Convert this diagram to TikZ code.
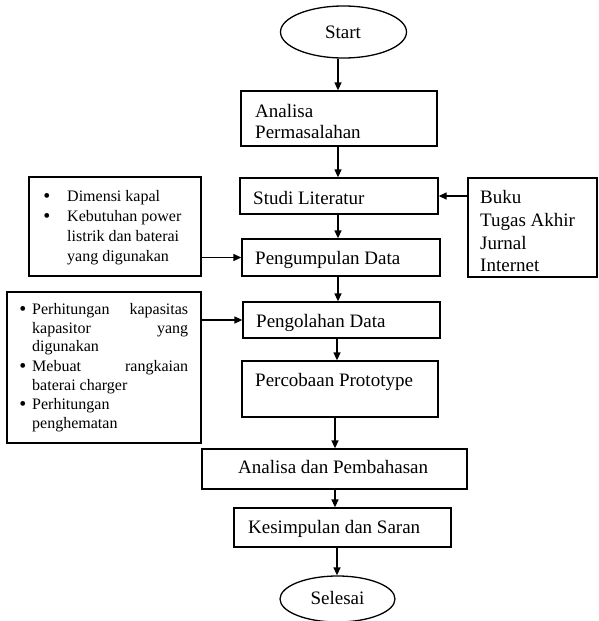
\documentclass[tikz,border=0pt]{standalone}
\usepackage{fontspec}
\setmainfont{Liberation Serif}
\usetikzlibrary{shapes.geometric,arrows.meta}
\tikzset{
  box/.style={draw=black, line width=1.3pt, rectangle, inner sep=0pt},
  term/.style={draw=black, line width=1.3pt, ellipse, inner sep=0pt},
  arr/.style={line width=1.3pt, -{Triangle[length=8pt,width=7pt]}},
  big/.style={anchor=base west, inner sep=0pt, font=\fontsize{19}{22}\selectfont},
  small/.style={anchor=base west, inner sep=0pt, font=\fontsize{16}{19}\selectfont},
  bul/.style={anchor=base, inner sep=0pt, font=\fontsize{20}{19}\selectfont}
}
\begin{document}
\begin{tikzpicture}[x=1pt,y=-1pt]
\useasboundingbox (0,0) rectangle (598,621);
% main column
\node[term, minimum width=126pt, minimum height=52pt] (start) at (343.5,32) {};
\node[anchor=base, inner sep=0pt, font=\fontsize{19}{22}\selectfont] (tstart) at (343,38) {Start};
\node[box, minimum width=196pt, minimum height=55pt] (analisa) at (339,118.5) {};
\node[big] (t1a) at (255,117) {Analisa};
\node[big] (t1b) at (255,138) {Permasalahan};
\node[box, minimum width=198pt, minimum height=36pt] (studi) at (339,196) {};
\node[big] (t2) at (253,204) {Studi Literatur};
\node[box, minimum width=198pt, minimum height=37pt] (kumpul) at (341,257.5) {};
\node[big] (t3) at (255,264) {Pengumpulan Data};
\node[box, minimum width=197pt, minimum height=36pt] (olah) at (341.5,320) {};
\node[big] (t4) at (256,327) {Pengolahan Data};
\node[box, minimum width=196pt, minimum height=56pt] (coba) at (340,389) {};
\node[big] (t5) at (255,386) {Percobaan Prototype};
\node[box, minimum width=265pt, minimum height=40pt] (adp) at (334.5,469) {};
\node[big] (t6) at (238,473) {Analisa dan Pembahasan};
\node[box, minimum width=217pt, minimum height=39pt] (kes) at (342.5,527.5) {};
\node[big] (t7) at (248,533) {Kesimpulan dan Saran};
\node[term, minimum width=115pt, minimum height=46pt] (selesai) at (337.5,599) {};
\node[anchor=base, inner sep=0pt, font=\fontsize{19}{22}\selectfont] (tsel) at (337.5,604) {Selesai};
% columns for arrows
\coordinate (cA) at (338,0);
\coordinate (cB) at (335,0);
\coordinate (cC) at (337,0);
\draw[arr] (start.south -| cA) -- (analisa.north -| cA);
\draw[arr] (analisa.south -| cA) -- (studi.north -| cA);
\draw[arr] (studi.south -| cA) -- (kumpul.north -| cA);
\draw[arr] (kumpul.south -| cA) -- (olah.north -| cA);
\draw[arr] (olah.south -| cC) -- (coba.north -| cC);
\draw[arr] (coba.south -| cB) -- (adp.north -| cB);
\draw[arr] (adp.south -| cB) -- (kes.north -| cB);
\draw[arr] (kes.south -| cC) -- (selesai.north -| cC);
% left box 1
\node[box, minimum width=172pt, minimum height=99pt] (left1) at (115,226.5) {};
\node[bul] (b11) at (47,202) {\textbullet};
\node[small] (l11) at (67,201) {Dimensi kapal};
\node[bul] (b12) at (47,222) {\textbullet};
\node[small] (l12) at (67,221) {Kebutuhan power};
\node[small] (l13) at (67,241) {listrik dan baterai};
\node[small] (l14) at (67,261) {yang digunakan};
\draw[arr] (left1.east |- kumpul.west) -- (kumpul.west);
% right box
\node[box, minimum width=129pt, minimum height=99pt] (right) at (532.5,227.5) {};
\node[big] (r1) at (480,203) {Buku};
\node[big] (r2) at (480,226) {Tugas Akhir};
\node[big] (r3) at (480,249) {Jurnal};
\node[big] (r4) at (480,271) {Internet};
\draw[arr] (right.west |- studi.east) -- (studi.east);
% left box 2
\node[box, minimum width=194pt, minimum height=151pt] (left2) at (104,367.5) {};
\node[bul] (b21) at (23,315) {\textbullet};
\node[small] (l21) at (32,314) {\hbox to 156pt{Perhitungan\hfill kapasitas}};
\node[small] (l22) at (32,333) {\hbox to 156pt{kapasitor\hfill yang}};
\node[small] (l23) at (32,351) {digunakan};
\node[bul] (b22) at (23,372) {\textbullet};
\node[small] (l24) at (32,371) {\hbox to 156pt{Mebuat\hfill rangkaian}};
\node[small] (l25) at (32,390) {baterai charger};
\node[bul] (b23) at (23,410) {\textbullet};
\node[small] (l26) at (32,409) {Perhitungan};
\node[small] (l27) at (32,428) {penghematan};
\draw[arr] (left2.east |- olah.west) -- (olah.west);
\end{tikzpicture}
\end{document}
